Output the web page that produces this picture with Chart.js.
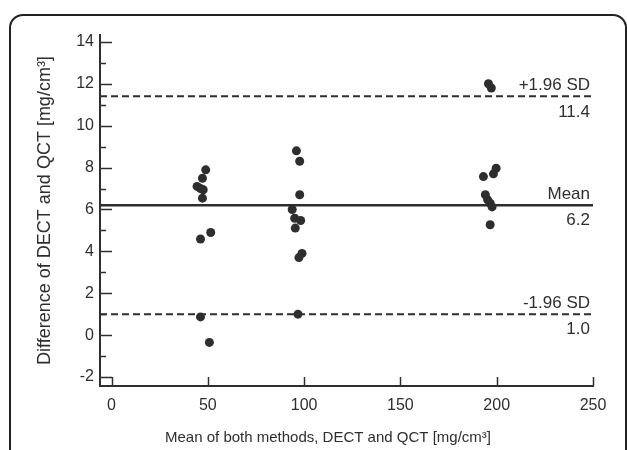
<!DOCTYPE html>
<html>
<head>
<meta charset="utf-8">
<script src="https://cdn.jsdelivr.net/npm/chart.js@4/dist/chart.umd.min.js"></script>
<style>
  html, body { margin: 0; padding: 0; background: #fff; overflow: hidden; }
  #frame { position: absolute; left: 9px; top: 14px; width: 614px; height: 480px;
           border: 2px solid #222; border-radius: 14px; }
  #wrap { position: absolute; left: 0; top: 0; width: 627px; height: 450px; }
</style>
</head>
<body>
<div id="frame"></div>
<div id="wrap"><canvas id="ba-plot" width="627" height="450"></canvas></div>
<script>
// Bland-Altman data: mean of both methods (x) vs difference (y)
const meanValues = [48.9, 47.2, 44.4, 46.2, 47.6, 47.2, 51.5, 46.2, 46.2, 50.8,
                    96.0, 97.7, 97.7, 93.8, 95.1, 98.2, 95.4, 98.9, 97.3, 96.8,
                    195.7, 197.2, 193.1, 198.3, 199.7, 194.1, 195.3, 196.6, 197.6, 196.6];
const diffValues = [7.89, 7.49, 7.10, 7.00, 6.94, 6.54, 4.90, 4.59, 0.87, -0.35,
                    8.80, 8.30, 6.70, 6.00, 5.58, 5.47, 5.11, 3.90, 3.70, 1.00,
                    12.0, 11.8, 7.57, 7.70, 7.97, 6.70, 6.46, 6.30, 6.12, 5.27];
const meanDiff = 6.2;
const upperLimit = 11.4;
const lowerLimit = 1.0;
const xTicks = [0, 50, 100, 150, 200, 250];
const yTicks = [-2, 0, 2, 4, 6, 8, 10, 12, 14];
const yMinorTicks = [-1, 1, 3, 5, 7, 9, 11, 13];
const xMin = -6, xMax = 250, yMin = -2.43, yMax = 14.33;
const xTitle = 'Mean of both methods, DECT and QCT [mg/cm³]';

const ink = '#2e2e2e';
const fontFamily = '"Liberation Sans", Arial, sans-serif';

// Draws inward tick marks, the line labels and the x title
const bland = {
    id: 'bland',
    afterDraw(chart) {
        const ctx = chart.ctx;
        const x = chart.scales.x, y = chart.scales.y;
        const area = chart.chartArea;
        ctx.save();
        ctx.strokeStyle = ink;
        ctx.lineWidth = 1.5;
        ctx.beginPath();
        yTicks.forEach(v => {
            const py = Math.round(y.getPixelForValue(v)) + 0.5;
            ctx.moveTo(area.left, py); ctx.lineTo(area.left + 12, py);
        });
        yMinorTicks.forEach(v => {
            const py = Math.round(y.getPixelForValue(v)) + 0.5;
            ctx.moveTo(area.left, py); ctx.lineTo(area.left + 6, py);
        });
        xTicks.forEach(v => {
            const px = Math.round(x.getPixelForValue(v)) + 0.5;
            ctx.moveTo(px, area.bottom); ctx.lineTo(px, area.bottom - 9);
        });
        ctx.stroke();

        // labels for mean and limits of agreement
        ctx.fillStyle = ink;
        ctx.font = '17px ' + fontFamily;
        ctx.textAlign = 'right';
        const tx = area.right - 3;
        const labels = [['+1.96 SD', upperLimit], ['Mean', meanDiff], ['-1.96 SD', lowerLimit]];
        labels.forEach(([name, v]) => {
            const py = y.getPixelForValue(v);
            ctx.textBaseline = 'alphabetic';
            ctx.fillText(name, tx, py - 6);
            ctx.textBaseline = 'top';
            ctx.fillText(v.toFixed(1), tx, py + 7);
        });

        // x axis title, centred a little left of the plot centre
        ctx.font = '15px ' + fontFamily;
        ctx.textAlign = 'center';
        ctx.textBaseline = 'middle';
        ctx.fillText(xTitle, 328, 438);
        ctx.restore();
    }
};

function hLine(v, dash) {
    return {
        type: 'line',
        data: [{x: xMin, y: v}, {x: xMax, y: v}],
        borderColor: ink,
        borderWidth: dash ? 2 : 2.5,
        borderDash: dash ? [7, 4] : [],
        pointRadius: 0,
        showLine: true,
        order: 2
    };
}

const points = meanValues.map((m, i) => ({x: m, y: diffValues[i]}));

new Chart(document.getElementById('ba-plot').getContext('2d'), {
    type: 'scatter',
    data: {
        datasets: [
            {
                data: points,
                backgroundColor: ink,
                borderColor: ink,
                pointRadius: 4.5,
                pointBorderWidth: 0,
                order: 1
            },
            hLine(upperLimit, true),
            hLine(meanDiff, false),
            hLine(lowerLimit, true)
        ]
    },
    options: {
        responsive: false,
        animation: false,
        layout: { padding: { left: 0, right: 34, top: 35, bottom: 0 } },
        plugins: { legend: { display: false }, tooltip: { enabled: false } },
        scales: {
            x: {
                type: 'linear',
                min: xMin,
                max: xMax,
                afterBuildTicks: s => { s.ticks = xTicks.map(v => ({value: v})); },
                afterFit: s => { s.height = 64; },
                grid: { display: false, drawTicks: false },
                border: { display: true, color: ink, width: 2 },
                ticks: { color: ink, padding: 10, font: { size: 16, family: fontFamily } }
            },
            y: {
                type: 'linear',
                min: yMin,
                max: yMax,
                afterBuildTicks: s => { s.ticks = yTicks.map(v => ({value: v})); },
                afterFit: s => { s.width = 100; },
                grid: { display: false, drawTicks: false },
                border: { display: true, color: ink, width: 2 },
                ticks: { color: ink, padding: 6, font: { size: 16, family: fontFamily } },
                title: {
                    display: true,
                    text: 'Difference of DECT and QCT [mg/cm³]',
                    color: ink,
                    font: { size: 18, family: fontFamily },
                    padding: { top: 34, bottom: 0 }
                }
            }
        }
    },
    plugins: [bland]
});
</script>
</body>
</html>
